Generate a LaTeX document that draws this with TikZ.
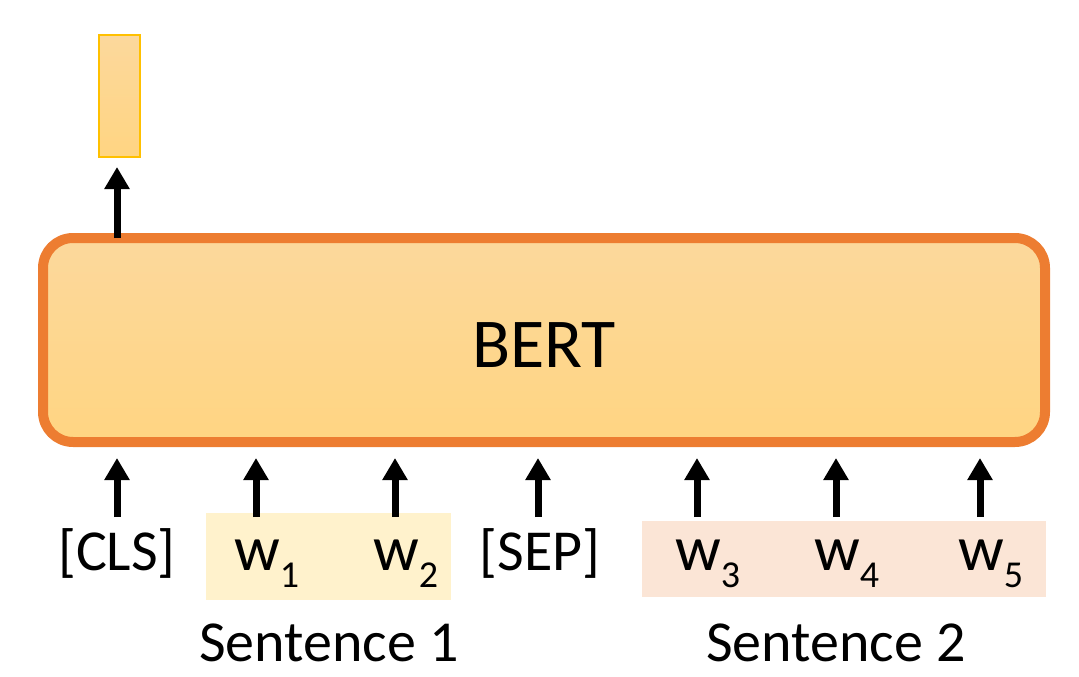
\documentclass[tikz,border=0pt]{standalone}
\usepackage{fontspec}
\setmainfont{Carlito}
\usepackage{tikz}
\usetikzlibrary{arrows.meta,positioning}
\definecolor{bertedge}{HTML}{ED7D31}
\definecolor{berttop}{HTML}{FCD89C}
\definecolor{bertbot}{HTML}{FFD582}
\definecolor{baredge}{HTML}{FFC000}
\definecolor{sentA}{HTML}{FFF2CC}
\definecolor{sentB}{HTML}{FBE5D6}
\newcommand{\wsub}[1]{{\fontsize{64}{68}\selectfont w}\raisebox{-17pt}{\fontsize{38}{40}\selectfont #1}}

\begin{document}
\begin{tikzpicture}[x=1pt, y=-1pt,
    upar/.style={line width=7pt, -{Triangle[width=24pt,length=22pt]}},
    tok/.style={font=\fontsize{58}{64}\selectfont, inner sep=0pt}]
  \useasboundingbox (0,0) rectangle (1079,677);

  % sentence backgrounds
  \node[fill=sentA, minimum width=245pt, minimum height=87pt, inner sep=0pt] (sent1) at (328.5,556.5) {};
  \node[fill=sentB, minimum width=404pt, minimum height=76pt, inner sep=0pt] (sent2) at (844,559) {};

  % encoder and pooled output
  \node[draw=bertedge, line width=10pt, rounded corners=30pt, top color=berttop, bottom color=bertbot,
        minimum width=1002pt, minimum height=204pt, inner sep=0pt] (bert) at (544,340) {};
  \node[font=\fontsize{70}{76}\selectfont, anchor=base] (bertlab) at (544,367) {BERT};
  \node[draw=baredge, line width=2pt, top color=berttop, bottom color=bertbot,
        minimum width=41pt, minimum height=122pt, inner sep=0pt] (cls out) at (119.5,96) {};
  \coordinate (cls top) at (117,238);
  \draw[upar, shorten >=9pt] (cls top) -- (cls top |- cls out.south);

  % input tokens
  \foreach \n/\x/\lx/\an/\txt in {
    cls/117/117/base/{[CLS]},
    wa/256/234/base west/{\wsub{1}},
    wb/395/373/base west/{\wsub{2}},
    sep/538/540/base/{[SEP]},
    wc/697/675/base west/{\wsub{3}},
    wd/836/814/base west/{\wsub{4}},
    we/980/958/base west/{\wsub{5}}} {
      \node[tok, anchor=\an] (t\n) at (\lx,570) {\txt};
      \coordinate (f\n) at (\x,517);
      \draw[upar, shorten >=11pt] (f\n) -- (f\n |- bert.south);
  }

  \node[tok, anchor=base] (sent1lab) at (329,661) {Sentence 1};
  \node[tok, anchor=base] (sent2lab) at (836,661) {Sentence 2};
\end{tikzpicture}
\end{document}
